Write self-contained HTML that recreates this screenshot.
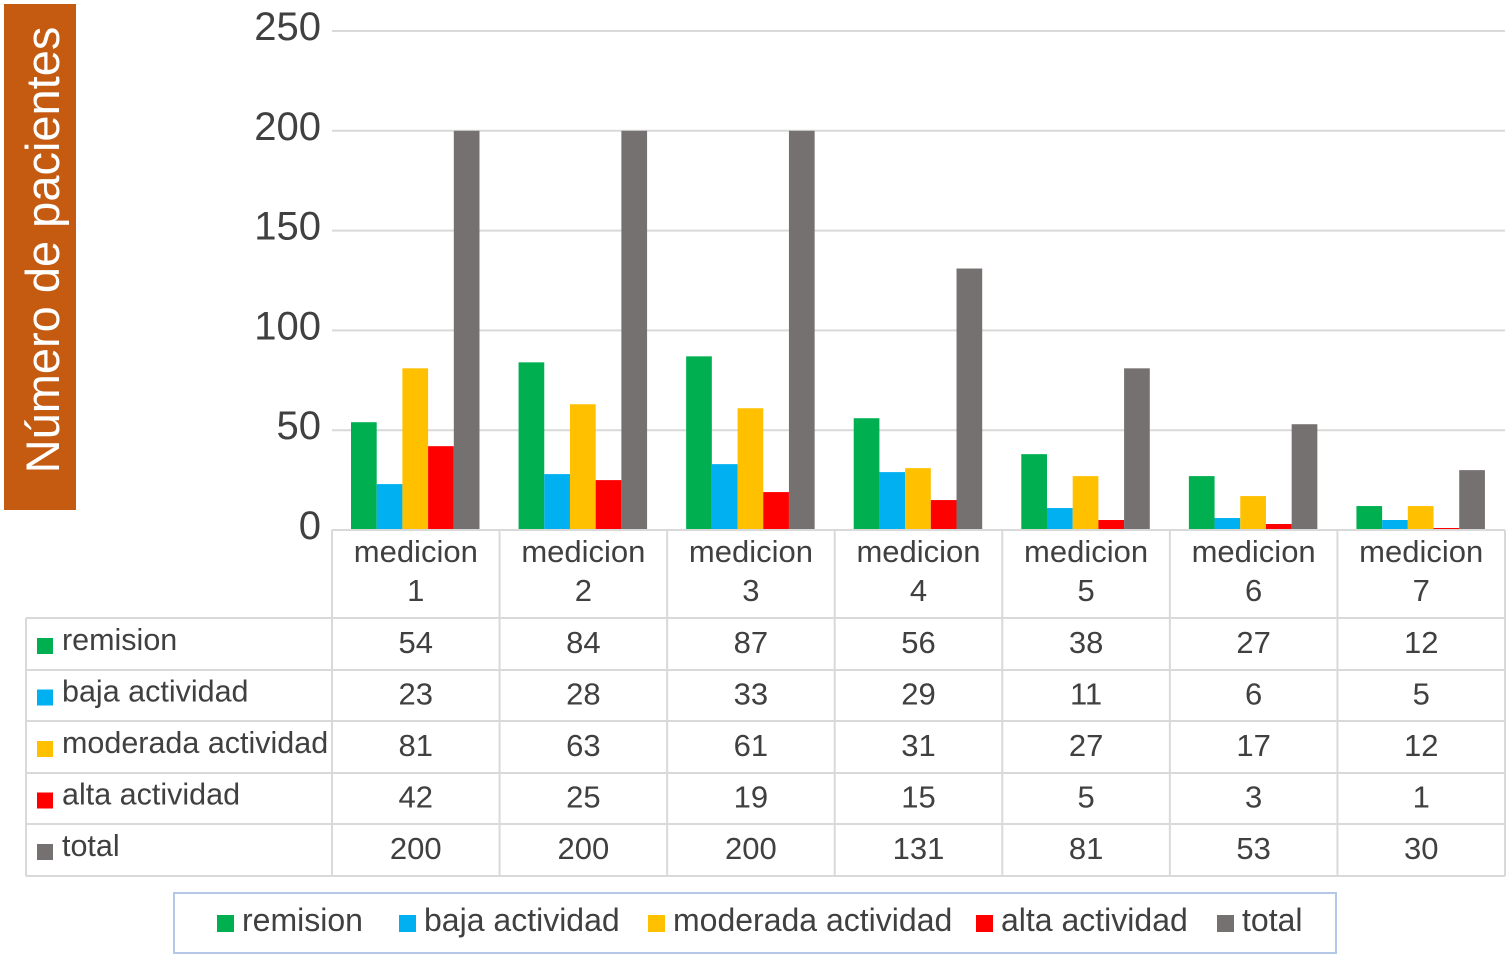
<!DOCTYPE html>
<html><head><meta charset="utf-8"><style>
body{margin:0;background:#fff;}
svg text{font-family:"Liberation Sans",sans-serif;fill:#404040;}
</style></head><body>
<svg id="c" width="1510" height="959" viewBox="0 0 1510 959" xmlns="http://www.w3.org/2000/svg">
<rect x="4" y="4" width="72" height="506" fill="#C55A11"/>
<text x="0" y="0" transform="translate(59,250) rotate(-90)" text-anchor="middle" font-size="47" style="fill:#fff">Número de pacientes</text>
<g id="grid"></g><g id="bars"></g><g id="tbl"></g>
<rect x="174" y="893" width="1162" height="60" fill="none" stroke="#B4C7E7" stroke-width="2"/>
<g id="leg"></g>
</svg>
<script>
const categories=["1","2","3","4","5","6","7"];
const seriesNames=["remision","baja actividad","moderada actividad","alta actividad","total"];
const remision=[54,84,87,56,38,27,12];
const baja=[23,28,33,29,11,6,5];
const moderada=[81,63,61,31,27,17,12];
const alta=[42,25,19,15,5,3,1];
const total=[200,200,200,131,81,53,30];
const yTicks=[0,50,100,150,200,250];
const colors=["#00B050","#00B0F0","#FFC000","#FF0000","#767171"];
const series=[remision,baja,moderada,alta,total];
const NS="http://www.w3.org/2000/svg";
const X0=332,X1=1505,Y0=530,Y250=31;
const cw=(X1-X0)/categories.length;
const y=v=>Y0-(v/250)*(Y0-Y250);
const x=i=>X0+i*cw;
function mk(p,t,a){const e=document.createElementNS(NS,t);for(const k in a)e.setAttribute(k,a[k]);p.appendChild(e);return e;}
const g=document.getElementById('grid');
yTicks.forEach(t=>{
 if(t>0){const l=mk(g,'line',{x1:X0,x2:X1,y1:y(t),y2:y(t),stroke:'#D9D9D9','stroke-width':2});
 
 }
 const tx=mk(g,'text',{x:321,y:y(t)+9,'text-anchor':'end','font-size':40});
 tx.textContent=t;
 
 
});
const b=document.getElementById('bars');
const bw=25.7;
categories.forEach((c,i)=>{
 series.forEach((s,j)=>{
  const r=mk(b,'rect',{x:x(i)+19+j*bw,y:y(s[i]),width:bw,height:Y0-y(s[i]),fill:colors[j]});
  
  
 });
});
const T=document.getElementById('tbl');
const lc='#D9D9D9';
const rows=[618,670,721,773,824,876];
for(let i=0;i<=categories.length;i++){mk(T,'line',{x1:x(i),x2:x(i),y1:Y0,y2:876,stroke:lc,'stroke-width':2});}
mk(T,'line',{x1:26,x2:26,y1:618,y2:876,stroke:lc,'stroke-width':2});
rows.forEach(r=>mk(T,'line',{x1:26,x2:X1,y1:r,y2:r,stroke:lc,'stroke-width':2}));
mk(T,'line',{x1:X0,x2:X1,y1:Y0,y2:Y0,stroke:lc,'stroke-width':2});
categories.forEach((c,i)=>{
 const cx=x(i)+cw/2;
 const t1=mk(T,'text',{x:cx,y:562,'text-anchor':'middle','font-size':31});t1.textContent='medicion';
 
 
 const t2=mk(T,'text',{x:cx,y:601,'text-anchor':'middle','font-size':31});t2.textContent=c;
});
series.forEach((s,j)=>{
 const ry=rows[j]+(rows[j+1]-rows[j])/2+8;
 mk(T,'rect',{x:37,y:ry-14,width:16,height:16,fill:colors[j]});
 const n=mk(T,'text',{x:62,y:ry-2,'font-size':30.5});n.textContent=seriesNames[j];
 
 
 s.forEach((v,i)=>{const t=mk(T,'text',{x:x(i)+cw/2,y:ry+1,'text-anchor':'middle','font-size':31});t.textContent=v;});
});
const L=document.getElementById('leg');
const lx=[217,399,648,976,1217];
seriesNames.forEach((n,j)=>{
 mk(L,'rect',{x:lx[j],y:915,width:17,height:17,fill:colors[j]});
 const t=mk(L,'text',{x:lx[j]+25,y:931,'font-size':32});t.textContent=n;
 
 
});
</script>
</body></html>
